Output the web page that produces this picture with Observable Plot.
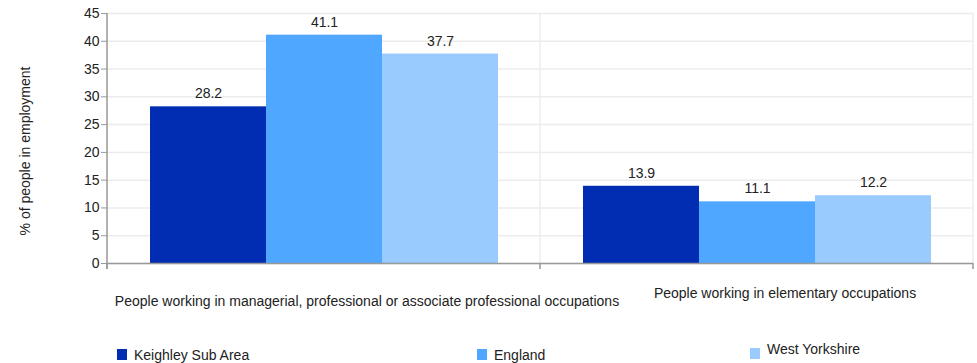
<!DOCTYPE html>
<html><head><meta charset="utf-8">
<script src="https://cdn.jsdelivr.net/npm/d3@7"></script>
<script src="https://cdn.jsdelivr.net/npm/@observablehq/plot@0.6"></script>
<style>
body{margin:0;background:#fff;font-family:"Liberation Sans",Arial,sans-serif;}
#wrap{position:relative;width:977px;height:363px;overflow:hidden;}
.leg{position:absolute;font-size:14px;color:#222;height:16px;line-height:16px;white-space:nowrap;}
.sw{position:absolute;width:10px;height:11px;}
</style></head><body><div id="wrap"></div>
<script>
const categories = ["People working in managerial, professional or associate professional occupations", "People working in elementary occupations"];
const series = ["Keighley Sub Area", "England", "West Yorkshire"];
const keighley = [28.2, 13.9];
const england = [41.1, 11.1];
const westYorkshire = [37.7, 12.2];
const yTicks = [0, 5, 10, 15, 20, 25, 30, 35, 40, 45];
const colors = ["#002db2", "#4fa7ff", "#99cbff"];
const yLabel = "% of people in employment";

const seriesValues = [keighley, england, westYorkshire];
const data = categories.flatMap((c, i) => series.map((s, j) => ({category: c, series: s, value: seriesValues[j][i]})));

const font = '"Liberation Sans", Arial, sans-serif';
const plot = Plot.plot({
  width: 977, height: 335,
  marginLeft: 107, marginRight: 4, marginTop: 13, marginBottom: 72,
  style: {fontFamily: font, fontSize: "14px", color: "#222", background: "white", overflow: "visible"},
  fx: {domain: categories, padding: 0, axis: null, label: null},
  x: {domain: series, paddingInner: 0, paddingOuter: 0.36, axis: null},
  y: {domain: [0, 45], axis: null},
  color: {domain: series, range: colors},
  marks: [
    Plot.gridY(yTicks, {stroke: "#ececec", strokeOpacity: 1, strokeWidth: 1.5}),
    Plot.barY(data, {fx: "category", x: "series", y: "value", fill: "series"}),
    Plot.text(data, {fx: "category", x: "series", y: "value", text: d => d.value.toFixed(1), dy: -13, fill: "#222", fontSize: 14}),
    Plot.ruleY([0], {stroke: "#999", strokeWidth: 1.5}),
    Plot.axisY(yTicks, {tickSize: 6, stroke: "#999", fill: "#222", tickPadding: 2, label: null, fontSize: 14}),
    Plot.text(categories.slice(0, 1), {fx: d => d, frameAnchor: "bottom", dx: 43, dy: 42, text: d => d, fill: "#222", fontSize: 14}),
    Plot.text(categories.slice(1, 2), {fx: d => d, frameAnchor: "bottom", dx: 28, dy: 34, text: d => d, fill: "#222", fontSize: 14})
  ]
});

// facet edges: vertical grid lines, axis line and bottom ticks, using the fx scale
const fx = plot.scale("fx");
const y = plot.scale("y");
const svg = d3.select(plot.tagName.toLowerCase() === "svg" ? plot : plot.querySelector("svg"));
const edges = [fx.apply(categories[0]), ...categories.map(c => fx.apply(c) + fx.bandwidth)];
const y0 = y.apply(0), yTop = y.apply(45);
const g = svg.insert("g", ":first-child + *");
edges.forEach((ex, i) => {
  if (i > 0) g.append("line").attr("x1", ex).attr("x2", ex).attr("y1", yTop).attr("y2", y0).attr("stroke", "#ececec").attr("stroke-width", 1.5);
});
const g2 = svg.append("g");
g2.append("line").attr("x1", edges[0]).attr("x2", edges[0]).attr("y1", yTop).attr("y2", y0 + 6).attr("stroke", "#999").attr("stroke-width", 1.5);
edges.forEach(ex => {
  g2.append("line").attr("x1", ex).attr("x2", ex).attr("y1", y0).attr("y2", y0 + 6).attr("stroke", "#999").attr("stroke-width", 1.5);
});
svg.append("text").attr("transform", `translate(26,${(yTop + y0) / 2 + 13}) rotate(-90)`)
  .attr("text-anchor", "middle").attr("dominant-baseline", "middle")
  .attr("font-family", font).attr("font-size", 14).attr("fill", "#222").text(yLabel);

const wrap = document.getElementById("wrap");
wrap.appendChild(plot);

// legend
const legendPos = [[117, 349], [477, 349], [750, 346]];
series.forEach((s, i) => {
  const sw = document.createElement("div");
  sw.className = "sw";
  sw.style.left = legendPos[i][0] + "px";
  sw.style.top = (i === 2 ? legendPos[i][1] + 2 : legendPos[i][1]) + "px";
  sw.style.background = colors[i];
  wrap.appendChild(sw);
  const t = document.createElement("div");
  t.className = "leg";
  t.style.left = (legendPos[i][0] + 17) + "px";
  t.style.top = (i === 2 ? legendPos[i][1] - 5 : legendPos[i][1] - 2) + "px";
  t.textContent = s;
  wrap.appendChild(t);
});
</script></body></html>
